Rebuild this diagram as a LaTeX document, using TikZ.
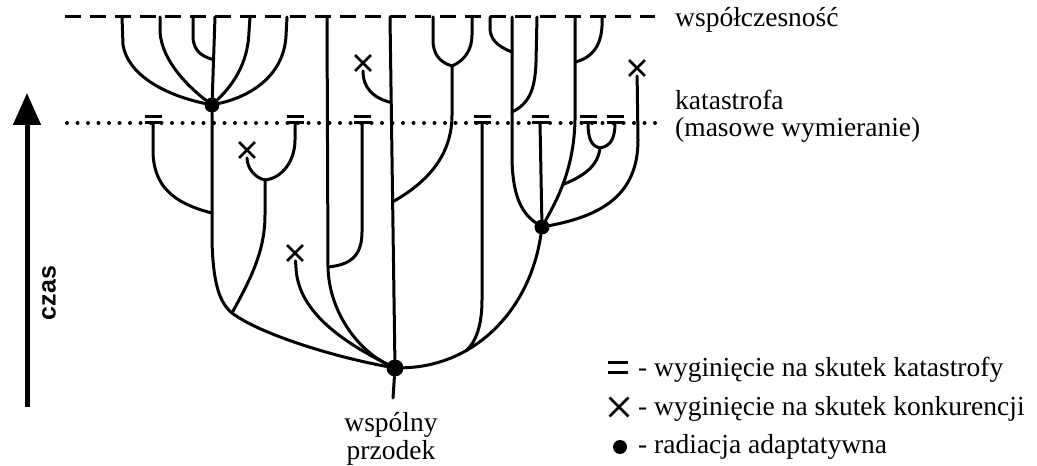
\documentclass[tikz,border=0pt]{standalone}
\usepackage{fontspec}
\setmainfont{Liberation Serif}
\newfontfamily\czasfont{Liberation Sans}
\usetikzlibrary{arrows.meta}
\usetikzlibrary{shapes.misc}

\tikzset{
  branch/.style={line width=3bp, line cap=round, line join=round},
  radiation/.style={circle, fill, inner sep=0pt, minimum size=15bp},
  extinct/.style={cross out, draw, line width=2.8bp, inner sep=0pt, minimum size=13bp},
  txt/.style={font=\fontsize{27.5bp}{33bp}\selectfont, inner sep=0pt},
}

\begin{document}
\begin{tikzpicture}[x=1bp, y=-1bp]
\useasboundingbox (0,0) rectangle (1037,466);

    % Time levels

    \coordinate (dashL) at (65,17);  \coordinate (dashR) at (655,17);
    \coordinate (dotL)  at (67,123); \coordinate (dotR)  at (660,123);
    \draw[line width=3bp, dash pattern=on 16bp off 9bp] (dashL) -- (dashR);
    \draw[line width=4bp, line cap=round, dash pattern=on 0bp off 10.5bp] (dotL) -- (dotR);

    \node[txt, anchor=base west] (now)  at (675,27)  {współczesność};
    \node[txt, anchor=base west] (kat)  at (675,110) {katastrofa};
    \node[txt, anchor=base west] (kat2) at (675,137) {(masowe wymieranie)};

    % Time axis

    \coordinate (tbot) at (27,407);
    \coordinate (ttop) at (27,93);
    \draw[line width=5bp, -{Triangle[width=27bp,length=32bp]}] (tbot) -- (ttop);
    \node[font=\czasfont\bfseries\fontsize{25bp}{30bp}\selectfont, rotate=90, inner sep=0pt] (czas) at (49,293) {czas};

    % Nodes

    \node[radiation, minimum size=17bp] (root)  at (395,368) {};
    \node[radiation]                    (left)  at (212,105) {};
    \node[radiation]                    (right) at (542,227) {};

    \node[extinct] (x1) at (363,63)  {};
    \node[extinct] (x2) at (247,150) {};
    \node[extinct] (x3) at (295,253) {};
    \node[extinct] (x4) at (637,68)  {};

    \foreach \n/\x in {c1/153, c2/295, c3/362, c4/482, c5/540, c6/588, c7/615}
        \coordinate (\n) at (\x,123);
    \foreach \n/\x in {t1/122, t2/160, t3/193, t4/215, t5/250, t6/287, t7/327, t8/390,
                       t9/433, t10/472, t11/490, t12/512, t13/537, t14/575, t15/602}
        \coordinate (\n) at (\x,17);

    \coordinate (stem) at (393,398);
    \coordinate (j1)   at (212,213);
    \coordinate (jl)   at (232,313);
    \coordinate (ub)   at (265,180);
    \coordinate (j7)   at (328,267);
    \coordinate (uc)   at (452,66);
    \coordinate (j12a) at (512,112);
    \coordinate (j12b) at (512,52);
    \coordinate (j14b) at (575,62);
    \coordinate (ur)   at (600,148);

    % Lineages

    \draw[branch] (root) -- (stem);

    \draw[branch] (left) .. controls (165,95) and (128,75) .. (123,45) -- (t1);
    \draw[branch] (left) .. controls (190,88) and (162,62) .. (160,32) -- (t2);
    \draw[branch] (left) -- coordinate[pos=0.47] (j4) (t4);
    \draw[branch] (j4) .. controls (198,56) and (193,47) .. (193,36) -- (t3);
    \draw[branch] (left) .. controls (238,80) and (248,58) .. (249,32) -- (t5);
    \draw[branch] (left) .. controls (256,95) and (284,72) .. (286,36) -- (t6);

    \draw[branch] (left) -- (j1) -- (212,240) .. controls (213,285) and (220,303) .. (jl)
                  .. controls (258,333) and (330,356) .. (root);
    \draw[branch] (j1) .. controls (172,203) and (153,185) .. (153,150) -- (c1);
    \draw[branch] (jl) .. controls (250,280) and (265,252) .. (265,215) -- (ub);
    \draw[branch] (ub) .. controls (255,178) and (247,168) .. (x2);
    \draw[branch] (ub) .. controls (283,178) and (295,160) .. (295,140) -- (c2);

    \draw[branch] (x3) -- (296,268) .. controls (298,308) and (335,338) .. (root);

    \draw[branch] (t7) -- (j7) .. controls (329,312) and (358,350) .. (root);
    \draw[branch] (j7) .. controls (348,265) and (362,258) .. (362,232) -- (c3);

    \draw[branch] (root) -- coordinate[pos=0.46] (j8b) coordinate[pos=0.75] (j8a) (t8);
    \draw[branch] (j8a) .. controls (373,98) and (363,88) .. (x1);
    \draw[branch] (j8b) .. controls (428,182) and (452,155) .. (452,115) -- (uc);
    \draw[branch] (uc) .. controls (438,62) and (433,52) .. (433,40) -- (t9);
    \draw[branch] (uc) .. controls (466,60) and (472,48) .. (472,35) -- (t10);

    \draw[branch] (root) .. controls (475,366) and (530,310) .. coordinate[pos=0.32] (jr) (right);
    \draw[branch] (c4) -- (482,300) .. controls (482,325) and (476,342) .. (jr);

    \draw[branch] (right) .. controls (520,212) and (512,192) .. (512,155) -- (t12);
    \draw[branch] (j12a) .. controls (528,104) and (535,92) .. (536,62) -- (t13);
    \draw[branch] (j12b) .. controls (496,46) and (490,38) .. (490,28) -- (t11);
    \draw[branch] (right) -- (c5);
    \draw[branch] (right) .. controls (558,198) and (574,168) .. coordinate[pos=0.45] (jr2) (575,120) -- (t14);
    \draw[branch] (jr2) .. controls (584,176) and (598,166) .. (ur);
    \draw[branch] (ur) .. controls (591,146) and (588,138) .. (c6);
    \draw[branch] (ur) .. controls (611,146) and (615,138) .. (c7);
    \draw[branch] (j14b) .. controls (592,58) and (601,46) .. (602,26) -- (t15);
    \draw[branch] (right) .. controls (600,216) and (638,196) .. (638,140) -- (x4);

    % Catastrophe marks

    \foreach \n in {c1,c2,c3,c4,c5,c6,c7}
        \draw[branch, line cap=butt] ([xshift=-8.5bp]\n) -- ([xshift=8.5bp]\n)
                                     ([xshift=-8.5bp,yshift=6bp]\n) -- ([xshift=8.5bp,yshift=6bp]\n);

    % Legend

    \coordinate (kkat) at (618,368);
    \draw[line width=3bp] ([xshift=-10bp,yshift=5bp]kkat) -- ([xshift=10bp,yshift=5bp]kkat)
                          ([xshift=-10bp,yshift=-5bp]kkat) -- ([xshift=10bp,yshift=-5bp]kkat);
    \node[extinct, minimum size=16bp] (kx)   at (619,407) {};
    \node[radiation, minimum size=14bp] (kdot) at (620,447) {};

    \node[txt, anchor=base west] (k1) at (638,377) {- wyginięcie na skutek katastrofy};
    \node[txt, anchor=base west] (k2) at (638,415) {- wyginięcie na skutek konkurencji};
    \node[txt, anchor=base west] (k3) at (638,453) {- radiacja adaptatywna};

    \node[txt, anchor=base] (anc1) at (391,431) {wspólny};
    \node[txt, anchor=base] (anc2) at (391,459) {przodek};

\end{tikzpicture}
\end{document}
